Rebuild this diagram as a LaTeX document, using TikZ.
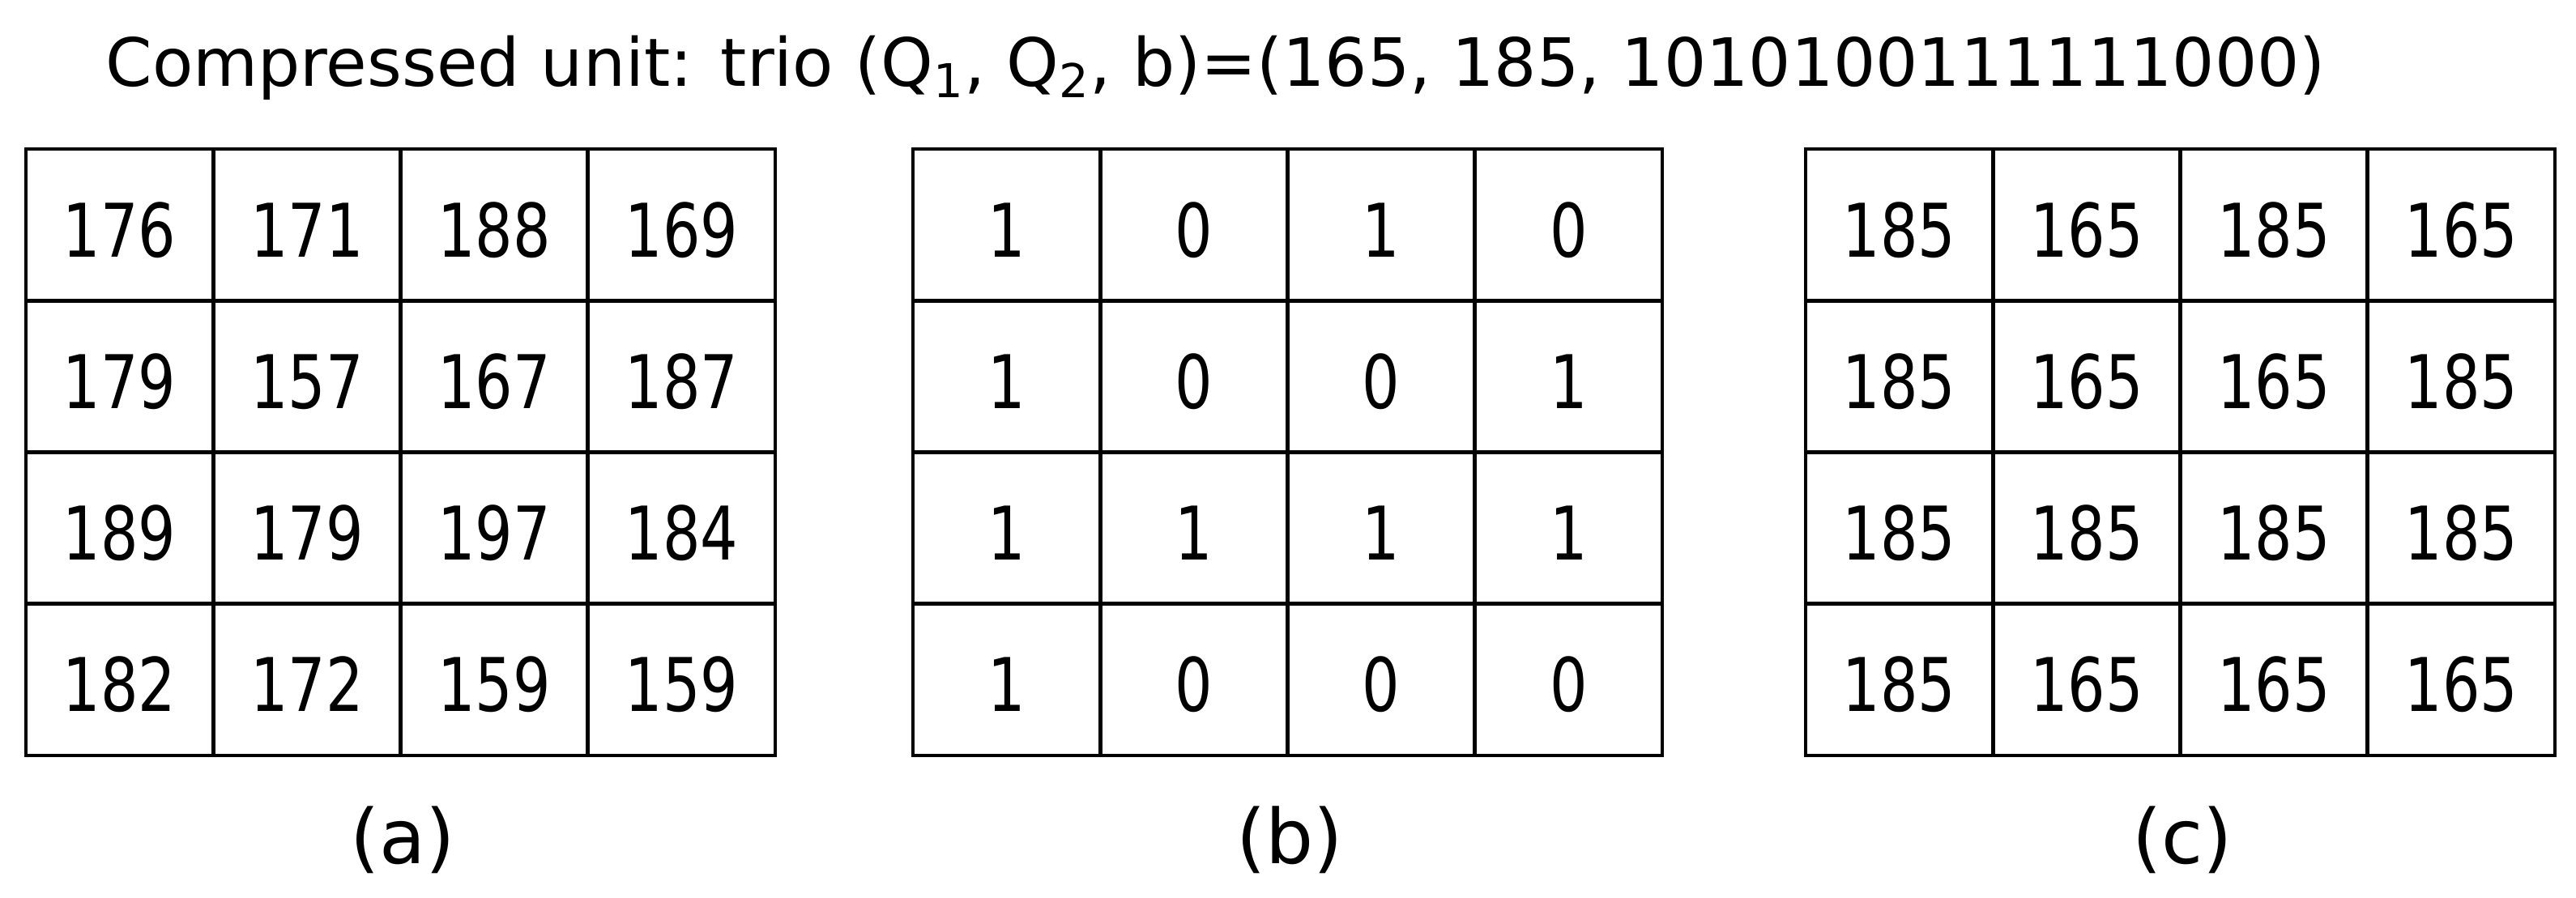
\documentclass[tikz,border=0pt]{standalone}
\usepackage{fontspec}
\setmainfont{DejaVu Sans}
\newfontfamily\cellfont[FakeStretch=0.8]{DejaVu Sans}
\usepackage{tikz}
\usetikzlibrary{positioning, calc}
\newcommand{\cellw}{2.3125}
\newcommand{\cellh}{1.8725}
\newcommand{\gridtop}{9.24}
\newcommand{\pixgrid}[3]{%
  \foreach \v [count=\i from 0] in {#3} {
    \pgfmathtruncatemacro{\r}{div(\i,4)}
    \pgfmathtruncatemacro{\c}{mod(\i,4)}
    \node[cell] (#1-\r-\c) at ({#2+(\c+0.5)*\cellw}, {\gridtop-(\r+0.5)*\cellh}) {\v};
  }
  \node[sublabel] (lab-#1) at ($(#1-3-1.south east)+(0,-1.02)$) {(#1)};
}

\begin{document}
\begin{tikzpicture}[
    cell/.style={draw, line width=1.4pt, minimum width=\cellw cm, minimum height=\cellh cm, inner sep=0pt,
        text height=0.79cm, text depth=0pt, font=\cellfont\fontsize{26}{30}\selectfont},
    sublabel/.style={inner sep=0pt, font=\fontsize{26.5}{30}\selectfont},
]
    \useasboundingbox (0,0) rectangle (31.8,11.08);
    \node[anchor=base west, inner sep=0pt, font=\fontsize{23.4}{28}\selectfont] (title) at (1.30,10.01)
        {Compressed unit: trio (Q\textsubscript{1}, Q\textsubscript{2}, b)=(165, 185, 1010100111111000)};
    \pixgrid{a}{0.32}{176,171,188,169, 179,157,167,187, 189,179,197,184, 182,172,159,159}
    \pixgrid{b}{11.27}{1,0,1,0, 1,0,0,1, 1,1,1,1, 1,0,0,0}
    \pixgrid{c}{22.29}{185,165,185,165, 185,165,165,185, 185,185,185,185, 185,165,165,165}
\end{tikzpicture}
\end{document}
